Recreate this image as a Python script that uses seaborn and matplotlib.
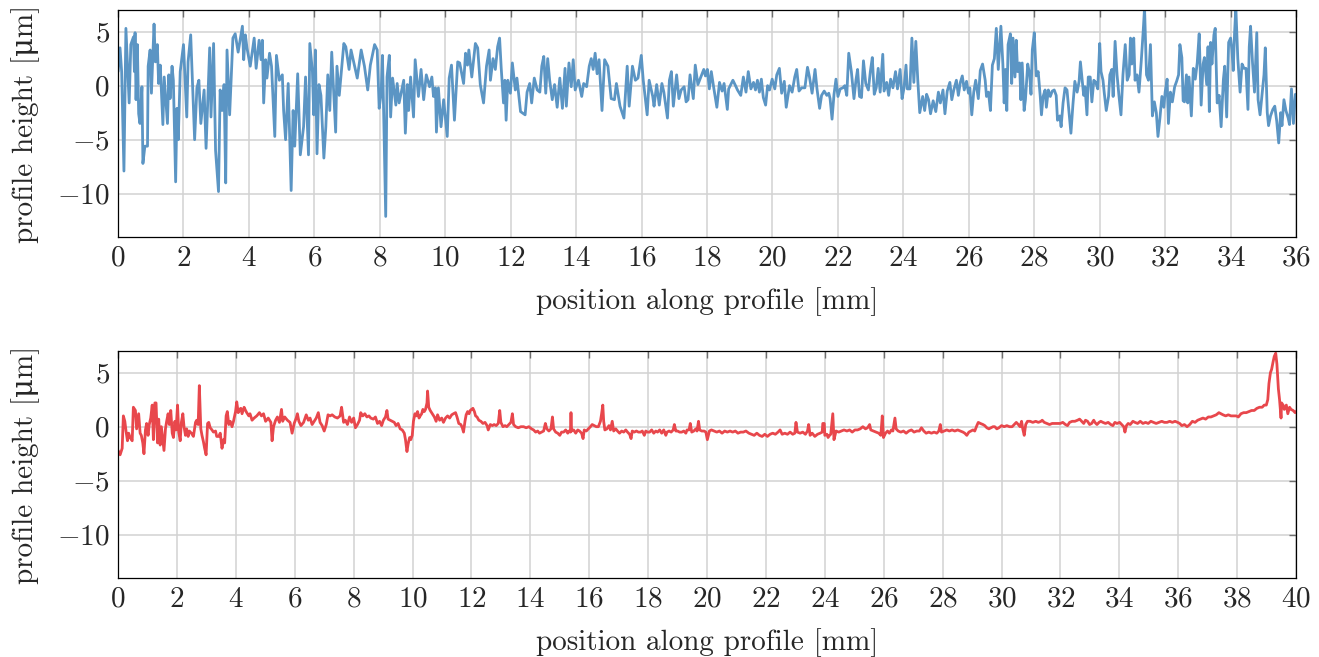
import matplotlib
matplotlib.use('Agg')
import matplotlib.pyplot as plt
import numpy as np
import pandas as pd
import seaborn as sns

# Profile 1 (0-36 mm)
top_x = [
    0.00, 0.06, 0.11, 0.18, 0.24, 0.34, 0.39, 0.47, 0.50, 0.52,
    0.55, 0.59, 0.63, 0.67, 0.73, 0.76, 0.82, 0.90, 0.92, 0.98,
    1.02, 1.10, 1.14, 1.20, 1.24, 1.29, 1.37, 1.41, 1.51, 1.55,
    1.59, 1.65, 1.69, 1.76, 1.80, 1.84, 1.90, 2.00, 2.10, 2.14,
    2.22, 2.29, 2.34, 2.41, 2.47, 2.53, 2.63, 2.69, 2.80, 2.84,
    2.92, 2.98, 3.07, 3.12, 3.18, 3.24, 3.29, 3.33, 3.41, 3.45,
    3.51, 3.58, 3.67, 3.80, 3.84, 3.89, 3.94, 4.04, 4.16, 4.22,
    4.31, 4.37, 4.41, 4.45, 4.51, 4.55, 4.63, 4.69, 4.79, 4.84,
    4.93, 5.02, 5.06, 5.12, 5.20, 5.29, 5.35, 5.40, 5.49, 5.57,
    5.67, 5.73, 5.82, 5.86, 5.94, 5.98, 6.03, 6.08, 6.14, 6.20,
    6.29, 6.35, 6.41, 6.47, 6.53, 6.65, 6.69, 6.76, 6.90, 6.96,
    7.06, 7.12, 7.31, 7.43, 7.53, 7.63, 7.71, 7.84, 7.92, 7.98,
    8.04, 8.08, 8.12, 8.18, 8.22, 8.29, 8.33, 8.39, 8.49, 8.53,
    8.59, 8.73, 8.78, 8.84, 8.88, 8.94,
    9.03, 9.08, 9.18, 9.26, 9.34, 9.42, 9.52, 9.59, 9.64, 9.70,
    9.73, 9.79, 9.87, 9.95, 10.06, 10.12, 10.19, 10.28, 10.38, 10.44,
    10.56, 10.62, 10.68, 10.72, 10.81, 10.92, 10.99, 11.07, 11.17, 11.26,
    11.34, 11.38, 11.46, 11.53, 11.60, 11.66, 11.71, 11.78, 11.82, 11.86,
    11.91, 11.99, 12.05, 12.14, 12.19, 12.30, 12.44, 12.50, 12.58, 12.64,
    12.72, 12.81, 12.89, 12.95, 13.01, 13.07, 13.13, 13.19, 13.27, 13.34,
    13.42, 13.50, 13.58, 13.66, 13.70, 13.78, 13.85, 13.91, 13.97, 14.07,
    14.17, 14.23, 14.32, 14.40, 14.46, 14.52, 14.58, 14.64, 14.70, 14.79,
    14.87, 14.97, 15.07, 15.17, 15.23, 15.34, 15.46, 15.56, 15.62, 15.72,
    15.81, 15.89, 15.99, 16.05, 16.17, 16.23, 16.34, 16.38, 16.46, 16.54,
    16.62, 16.68, 16.79, 16.85, 16.91, 16.97, 17.07, 17.14, 17.21, 17.30,
    17.36, 17.42, 17.48, 17.58, 17.64, 17.72, 17.81,
    17.90, 17.95, 18.01, 18.07, 18.13, 18.21, 18.30, 18.38, 18.46, 18.52,
    18.62, 18.66, 18.79, 18.87, 18.93, 19.03, 19.11, 19.19, 19.26, 19.34,
    19.42, 19.48, 19.54, 19.60, 19.66, 19.72, 19.79, 19.85, 19.91, 19.99,
    20.07, 20.13, 20.21, 20.28, 20.36, 20.42, 20.52, 20.60, 20.68, 20.74,
    20.81, 20.89, 20.99, 21.07, 21.13, 21.21, 21.30, 21.36, 21.44, 21.50,
    21.58, 21.66, 21.72, 21.76, 21.82, 21.88, 21.94, 22.00, 22.07, 22.15,
    22.21, 22.27, 22.33, 22.41, 22.49, 22.55, 22.60, 22.66, 22.72, 22.78,
    22.85, 22.93, 22.99, 23.05, 23.11, 23.17, 23.23, 23.29, 23.37, 23.41,
    23.49, 23.55, 23.61, 23.68, 23.76, 23.82, 23.90, 23.96, 24.02, 24.08,
    24.12, 24.20, 24.26, 24.32, 24.38, 24.44, 24.50, 24.59, 24.65, 24.71,
    24.77, 24.83, 24.91, 24.99, 25.07, 25.13, 25.21, 25.27, 25.34, 25.42,
    25.48, 25.54, 25.62, 25.68, 25.74, 25.80, 25.86, 25.93, 25.99, 26.03,
    26.09, 26.15, 26.21, 26.29, 26.35, 26.42, 26.50, 26.54, 26.60, 26.66,
    26.72, 26.78, 26.84, 26.90,
    26.94, 26.98, 27.04, 27.08, 27.12, 27.16, 27.20, 27.27, 27.31, 27.35,
    27.41, 27.45, 27.49, 27.55, 27.59, 27.63, 27.69, 27.73, 27.80, 27.86,
    27.90, 27.94, 28.00, 28.06, 28.12, 28.18, 28.22, 28.27, 28.33, 28.37,
    28.43, 28.49, 28.55, 28.61, 28.67, 28.71, 28.78, 28.82, 28.88, 28.94,
    29.00, 29.06, 29.12, 29.18, 29.24, 29.31, 29.37, 29.41, 29.47, 29.51,
    29.55, 29.61, 29.65, 29.71, 29.76, 29.82, 29.88, 29.94, 30.00, 30.04,
    30.10, 30.14, 30.20, 30.27, 30.31, 30.37, 30.41, 30.47, 30.53, 30.59,
    30.65, 30.71, 30.78, 30.84, 30.90, 30.94, 30.98, 31.04, 31.08, 31.14,
    31.20, 31.27, 31.33, 31.37, 31.43, 31.49, 31.55, 31.61, 31.67, 31.73,
    31.78, 31.84, 31.90, 31.96, 32.00, 32.06, 32.10, 32.16, 32.22, 32.29,
    32.35, 32.41, 32.45, 32.51, 32.55, 32.59, 32.65, 32.69, 32.73, 32.80,
    32.86, 32.92, 32.98, 33.04, 33.10, 33.16, 33.20, 33.27, 33.31, 33.35,
    33.39, 33.43, 33.49, 33.53, 33.59, 33.65, 33.71, 33.78, 33.82, 33.88,
    33.94, 34.00, 34.04, 34.08, 34.12, 34.16, 34.22, 34.29, 34.35, 34.41,
    34.47, 34.53, 34.57, 34.61, 34.67, 34.73, 34.80, 34.84, 34.90, 34.96,
    35.02, 35.06, 35.12, 35.16, 35.22, 35.29, 35.35, 35.41, 35.47, 35.53,
    35.57, 35.63, 35.69, 35.76, 35.80, 35.86, 35.92, 35.98, 36.00,
]
top_h = [
    1.3, 3.5, 1.3, -7.9, 5.3, -1.6, 3.8, 4.5, 1.3, 4.9,
    -1.3, 3.8, -2.6, -3.5, -0.1, -7.2, -5.6, -5.6, 1.8, 3.3,
    -0.7, 5.7, 2.2, 3.8, 0.2, 1.9, -3.6, 0.8, -3.5, 1.0,
    -1.2, 1.8, 0.5, -8.9, -2.1, -5.0, 1.3, 3.8, -2.9, 2.2,
    4.7, -1.0, -5.0, -0.2, 0.5, -3.5, -0.4, -5.8, 3.5, -2.9,
    3.9, -6.0, -9.8, -0.4, -2.3, 0.1, -9.0, 3.3, -2.7, 0.1,
    4.4, 4.8, 3.1, 5.5, 2.4, 4.7, 3.5, 1.8, 4.4, 1.6,
    4.2, 2.4, 4.2, -1.6, 2.4, 0.7, 3.0, 1.8, -4.7, 2.8,
    0.5, 1.0, -2.3, -5.0, 0.2, -9.7, -2.3, -5.6, 1.1, -6.4,
    -3.8, 0.8, -6.4, 3.9, 1.3, -2.7, 3.3, -6.3, 0.1, -0.9,
    -6.7, -3.8, 1.0, -2.3, 3.1, -4.3, 1.8, -0.9, 3.9, 3.6,
    1.5, 3.3, 0.7, 3.3, 1.8, -0.4, 1.9, 3.8, 3.3, -2.1,
    -0.7, 2.8, -2.9, -12.1, 0.8, 2.8, -2.9, 0.7, -1.8, 0.2,
    -1.6, 0.5, -4.4, 0.1, -2.3, 0.8,
    -2.9, 2.4, -1.0, 1.5, -1.3, 1.0, -0.1, 0.8, -1.0, -0.2,
    -4.3, -0.2, -3.8, -1.3, -4.7, 0.7, 1.9, -3.2, 2.2, 2.1,
    0.2, 3.0, 1.9, 3.3, 0.8, 3.9, 3.5, 0.1, -1.6, 1.8,
    3.3, 0.5, 2.5, 1.5, 3.6, 4.4, 1.6, -1.6, 0.5, -3.2,
    0.5, -0.7, 2.1, -0.4, 0.7, -2.4, -2.7, -0.6, 0.2, -1.6,
    0.7, -0.4, -0.6, 1.8, 2.7, -0.7, 2.5, 0.5, -1.3, 0.1,
    -2.0, 0.7, -2.1, 1.6, -1.9, 2.1, -0.1, 2.4, -0.4, 0.5,
    -1.0, 0.2, -0.1, 1.8, 2.5, 1.5, 3.0, 1.1, 2.4, -2.3,
    2.4, 1.8, -1.2, -1.3, 0.2, -1.9, -3.0, 1.8, -1.9, 1.8,
    0.5, 0.7, 2.8, 0.5, -2.7, 0.5, -1.0, -1.9, 0.1, -1.8,
    0.2, -0.6, -3.0, 0.5, 1.3, -1.9, 1.0, -1.2, -0.4, -0.1,
    -1.5, -1.3, 1.0, -1.2, 1.9, 0.1, 0.8,
    1.5, 0.9, 1.5, -0.3, 1.3, -0.3, -2.0, 0.3, -0.5, 0.2,
    -2.2, -0.3, 0.5, 0.0, -0.4, -0.9, 0.8, -0.6, 1.3, -0.3,
    0.3, -0.4, 0.5, -0.6, 0.6, -1.1, -1.8, 0.0, -0.4, 0.6,
    -0.3, 1.0, 1.6, -0.7, 0.4, -2.0, 0.0, -0.6, 0.8, 1.5,
    -0.5, -0.2, -0.2, 1.7, 0.8, -0.7, 1.5, -0.3, -2.1, -0.9,
    -0.5, -0.9, -0.7, -1.2, -3.1, -0.8, 0.6, -1.0, -0.3, -0.2,
    0.0, -0.9, 3.0, 1.3, -1.2, 0.5, 1.5, -1.0, -1.1, 2.3,
    0.2, -0.4, 1.3, 2.6, -0.8, -0.2, 1.6, -0.6, 2.9, -0.5,
    0.3, -0.9, 0.6, -0.2, 1.3, -0.3, 1.5, -1.2, -0.2, 1.9,
    -0.3, -0.3, 4.4, 0.3, 4.1, 0.5, -2.5, -1.0, -2.3, -0.8,
    -1.3, -2.6, -1.4, -2.4, -0.6, -1.6, -0.4, -2.6, -0.5, 0.3,
    -1.3, -0.4, 0.5, -0.9, 0.3, 0.9, -0.4, 0.4, -0.7, -0.2,
    -2.7, -0.6, 0.5, -1.2, 1.4, 2.0, 0.5, -1.0, -0.6, -2.3,
    1.9, 2.5, 5.3, 1.5,
    3.5, 5.5, 2.0, -1.6, 1.5, -2.3, 3.8, 4.8, 0.2, 4.4,
    0.8, 4.2, 1.3, 2.1, -1.3, 2.1, -2.3, -1.3, 2.0, 1.0,
    -0.8, 3.3, 4.9, 0.9, 1.3, -0.9, -2.7, -1.0, -0.4, -2.0,
    -0.4, -1.0, -0.5, -0.4, -0.9, -3.2, -2.8, -3.8, -1.6, -0.2,
    -0.4, -2.4, -4.4, -1.8, 0.4, -0.6, 0.4, 2.2, 0.3, -0.9,
    -0.1, -2.7, 0.8, 0.8, -1.5, 0.5, 0.3, -0.3, 3.9, 1.3,
    0.5, -0.7, -2.3, -1.0, 1.0, 1.5, -1.0, 4.1, 1.0, -1.0,
    -2.7, 1.0, 3.8, 0.5, 1.0, 4.4, 2.0, 4.4, 0.5, 1.0,
    -0.6, 2.3, 5.1, 7.2, 1.0, 0.5, 3.8, -2.8, -1.5, -2.5,
    -4.7, -3.0, -1.0, -2.0, -0.6, 0.6, -3.5, -0.6, -1.5, -0.1,
    0.4, 1.0, 3.8, 2.6, -1.4, -1.5, 1.0, -1.6, 0.8, -2.8,
    1.6, 0.6, 2.1, 4.8, -1.8, 2.0, 2.6, 0.1, 3.6, -2.4,
    4.0, 2.0, 4.7, 5.3, -1.6, -0.9, -3.8, 0.6, 1.8, -2.9,
    4.0, 4.4, 3.3, 1.4, 4.8, 7.2, 2.5, -0.6, 2.0, 1.6,
    1.6, -2.2, 3.6, 5.5, 2.1, -0.6, 4.9, -1.3, -2.7, -0.9,
    1.0, 3.5, -2.5, -3.7, -2.8, -2.2, -1.9, -3.3, -5.3, -2.5,
    -3.7, -1.3, -2.3, -3.0, -3.6, -0.3, -3.5, -0.8, -1.0,
]

# Profile 2 (0-40 mm)
bottom_x = [
    0.00, 0.07, 0.14, 0.18, 0.23, 0.27, 0.32, 0.36, 0.41, 0.48,
    0.52, 0.59, 0.63, 0.70, 0.75, 0.79, 0.84, 0.88, 0.93, 0.97,
    1.02, 1.06, 1.11, 1.16, 1.20, 1.25, 1.29, 1.34, 1.38, 1.43,
    1.47, 1.52, 1.56, 1.61, 1.65, 1.70, 1.74, 1.79, 1.84, 1.88,
    1.93, 1.97, 2.02, 2.06, 2.11, 2.15, 2.20, 2.24, 2.29, 2.33,
    2.38, 2.42, 2.49, 2.56, 2.63, 2.67, 2.72, 2.76, 2.81, 2.85,
    2.90, 2.94, 2.99, 3.04, 3.08, 3.13, 3.19, 3.24, 3.31, 3.35,
    3.42, 3.47, 3.53, 3.58, 3.62, 3.67, 3.71, 3.76, 3.81, 3.87,
    3.92, 3.99, 4.03, 4.08, 4.12, 4.17, 4.21, 4.28, 4.33, 4.37,
    4.44, 4.48, 4.55, 4.62, 4.71, 4.80, 4.87, 4.94, 5.01, 5.10,
    5.19, 5.23, 5.28, 5.35, 5.41, 5.48, 5.55, 5.59, 5.66, 5.75,
    5.84, 5.91, 5.98, 6.05, 6.09, 6.14, 6.21, 6.30, 6.39, 6.46,
    6.52, 6.59, 6.66, 6.73, 6.80, 6.86, 6.93, 7.00, 7.07, 7.13,
    7.20, 7.27, 7.36, 7.45, 7.54, 7.59, 7.66, 7.72, 7.79, 7.86,
    7.93, 8.00, 8.06, 8.13, 8.20, 8.24, 8.31, 8.38, 8.45, 8.52,
    8.58, 8.67, 8.74, 8.81, 8.88, 8.95, 9.01, 9.08, 9.13, 9.17,
    9.24, 9.31, 9.38, 9.44, 9.51,
    9.58, 9.65, 9.72, 9.76, 9.81, 9.85, 9.90, 9.94, 9.99, 10.03,
    10.08, 10.12, 10.17, 10.22, 10.26, 10.31, 10.35, 10.40, 10.44, 10.49,
    10.51, 10.55, 10.60, 10.67, 10.74, 10.80, 10.85, 10.92, 10.99, 11.05,
    11.12, 11.19, 11.26, 11.33, 11.39, 11.46, 11.51, 11.57, 11.64, 11.69,
    11.73, 11.78, 11.82, 11.87, 11.92, 11.96, 12.00, 12.05, 12.10, 12.14,
    12.19, 12.25, 12.32, 12.39, 12.46, 12.53, 12.57, 12.64, 12.71, 12.77,
    12.84, 12.91, 12.96, 13.00, 13.07, 13.14, 13.20, 13.27, 13.34, 13.39,
    13.43, 13.50, 13.59, 13.68, 13.77, 13.86, 13.95, 14.04, 14.11, 14.18,
    14.25, 14.31, 14.38, 14.45, 14.51, 14.56, 14.63, 14.70, 14.75, 14.79,
    14.86, 14.93, 15.00, 15.06, 15.13, 15.20, 15.27, 15.31, 15.36, 15.38,
    15.40, 15.47, 15.54, 15.61, 15.67, 15.74, 15.79, 15.83, 15.90, 15.97,
    16.04, 16.10, 16.17, 16.24, 16.31, 16.38, 16.42, 16.46, 16.49, 16.53,
    16.60, 16.67, 16.72, 16.78, 16.83, 16.90, 16.96, 17.03, 17.10, 17.17,
    17.24, 17.30, 17.37, 17.42, 17.46, 17.53, 17.60, 17.67, 17.74, 17.80,
    17.87, 17.92, 17.98, 18.05, 18.12, 18.19, 18.26, 18.32, 18.39, 18.46,
    18.53, 18.60, 18.64, 18.71, 18.78, 18.85, 18.89, 18.94, 19.00, 19.07,
    19.14, 19.21, 19.28, 19.32, 19.39, 19.43, 19.48, 19.55, 19.62, 19.66,
    19.71, 19.75, 19.82, 19.90, 19.96,
    20.01, 20.08, 20.15, 20.24, 20.33, 20.42, 20.51, 20.60, 20.69, 20.78,
    20.87, 20.96, 21.05, 21.14, 21.23, 21.32, 21.42, 21.51, 21.60, 21.69,
    21.78, 21.87, 21.96, 22.05, 22.14, 22.23, 22.32, 22.41, 22.48, 22.55,
    22.64, 22.73, 22.82, 22.91, 22.98, 23.02, 23.07, 23.16, 23.25, 23.34,
    23.41, 23.45, 23.50, 23.57, 23.66, 23.75, 23.84, 23.91, 23.93, 23.98,
    24.00, 24.07, 24.11, 24.16, 24.20, 24.27, 24.31, 24.38, 24.47, 24.56,
    24.65, 24.75, 24.84, 24.93, 25.02, 25.11, 25.20, 25.29, 25.38, 25.45,
    25.52, 25.56, 25.65, 25.74, 25.83, 25.90, 25.95, 25.99, 26.06, 26.13,
    26.19, 26.26, 26.31, 26.38, 26.42, 26.49, 26.58, 26.67, 26.76, 26.85,
    26.94, 27.03, 27.12, 27.21, 27.28, 27.36, 27.44, 27.53, 27.62, 27.71,
    27.80, 27.87, 27.92, 27.96, 28.05, 28.14, 28.23, 28.32, 28.41, 28.51,
    28.60, 28.69, 28.75, 28.82, 28.89, 28.96, 29.03, 29.09, 29.16, 29.21,
    29.28, 29.37, 29.43, 29.50, 29.57, 29.64, 29.71, 29.77, 29.84, 29.91,
    30.00, 30.09, 30.18, 30.27, 30.36, 30.43, 30.50, 30.57, 30.63, 30.68,
    30.72, 30.77, 30.82, 30.88, 30.97, 31.06, 31.16, 31.25, 31.34, 31.38,
    31.45, 31.54, 31.63, 31.72, 31.81, 31.90, 31.99, 32.08, 32.17, 32.24,
    32.31, 32.40, 32.49, 32.58, 32.65, 32.72, 32.79, 32.85, 32.92, 32.99,
    33.06, 33.13, 33.17, 33.24, 33.31, 33.37, 33.44, 33.53, 33.62, 33.71,
    33.78, 33.85, 33.92, 34.01, 34.08, 34.15, 34.19, 34.24, 34.30, 34.37,
    34.46, 34.53, 34.62, 34.71, 34.80, 34.89, 34.98, 35.07, 35.16, 35.25,
    35.35, 35.44, 35.53, 35.62, 35.71, 35.80, 35.89, 35.98, 36.05, 36.12,
    36.21, 36.30, 36.39, 36.48, 36.57, 36.66, 36.75, 36.84, 36.93, 37.02,
    37.11, 37.20, 37.29, 37.38, 37.45, 37.52, 37.61, 37.70, 37.79, 37.88,
    37.97, 38.04, 38.13, 38.22, 38.31, 38.40, 38.49, 38.58, 38.67, 38.76,
    38.85, 38.92, 38.99, 39.04, 39.08, 39.13, 39.17, 39.22, 39.26, 39.31,
    39.35, 39.40, 39.44, 39.49, 39.51, 39.56, 39.60, 39.67, 39.72, 39.78,
    39.83, 39.90, 39.97, 40.00,
]
bottom_h = [
    -2.2, -2.6, -2.0, 1.0, 0.5, -0.4, -1.3, -0.6, -1.0, -1.3,
    1.8, 1.5, -0.2, 1.2, -0.6, -0.8, -1.5, -2.5, -0.3, 0.3,
    -0.8, 0.2, 0.8, 2.0, -1.2, 2.2, 2.2, -1.5, 0.7, -1.7,
    0.0, -1.2, -2.2, -0.2, 0.5, 1.2, 0.2, 1.5, -0.6, -1.0,
    0.5, -0.3, 2.0, -0.5, -1.3, 0.4, 1.2, 0.0, -0.8, -0.2,
    -0.9, -0.4, -0.6, -0.9, 0.4, 0.6, 0.2, 3.8, -0.2, -0.8,
    -1.4, -2.0, -2.6, 0.3, 0.4, -0.1, -0.3, -0.5, -0.4, -0.9,
    -0.9, -0.6, -2.0, -1.2, -1.5, 1.0, 1.4, 0.2, 0.5, 0.0,
    0.5, 1.4, 2.3, 1.3, 1.6, 1.7, 1.2, 1.8, 1.5, 1.3,
    1.0, 1.2, 0.6, 0.8, 1.0, 1.3, 1.0, 1.2, 0.5, 0.8,
    0.4, -1.3, 0.0, 0.6, 0.9, 0.4, 1.6, 0.5, 0.9, 0.6,
    0.4, -0.6, 0.3, 0.8, 1.2, 0.5, 0.1, 0.4, 1.1, 0.6,
    0.8, 0.2, 0.5, 0.8, 1.3, 0.4, 0.1, -0.4, 0.2, 1.1,
    1.0, 1.1, 0.9, 0.8, 1.0, 1.8, 0.4, 0.6, 0.2, 0.9,
    0.4, 0.8, -0.1, 0.2, 0.6, 1.3, 1.0, 1.2, 0.9, 1.0,
    0.8, 0.7, 0.9, 0.3, 0.5, 0.1, 0.6, 0.9, 1.5, 0.7,
    0.6, 0.5, 0.4, 0.1, 0.3,
    -0.2, -0.3, -0.6, -1.2, -2.3, -1.6, -1.0, -1.2, -0.8, 0.5,
    1.2, 1.0, 1.4, 0.8, 1.0, 1.2, 1.6, 1.4, 1.6, 2.2,
    3.3, 1.8, 1.5, 1.2, 0.9, 0.5, 1.1, 0.6, 0.8, 0.4,
    0.8, 1.0, 0.8, 1.1, 1.2, 1.3, 0.9, 0.3, 0.2, -0.1,
    -0.5, 0.5, 1.1, 1.4, 1.2, 1.5, 1.6, 1.7, 1.4, 1.0,
    0.9, 0.6, 0.5, 0.3, 0.4, 0.1, -0.3, 0.2, 0.1, 0.2,
    0.1, 0.3, 1.5, 0.4, 0.0, 0.1, 0.0, 0.2, 0.4, 1.2,
    0.2, 0.0, -0.1, 0.0, 0.0, -0.1, 0.0, -0.2, -0.3, -0.5,
    -0.4, -0.6, -0.5, -0.4, 0.3, -0.2, -0.4, -0.2, 0.9, -0.2,
    -0.5, -0.6, -0.8, -0.5, -0.5, -0.3, -0.6, -0.4, -0.5, 1.3,
    -0.4, -0.3, -0.6, -0.3, -0.4, -0.6, -1.1, -0.3, -0.4, -0.2,
    0.0, 0.2, 0.1, 0.0, 0.0, 0.5, 1.2, 2.0, 0.5, -0.3,
    -0.2, 0.1, -0.3, 0.5, -0.4, -0.2, -0.4, -0.6, -0.4, -0.5,
    -0.3, -0.5, -0.7, -1.1, -0.4, -0.5, -0.4, -0.5, -0.5, -0.4,
    -0.8, -0.4, -0.5, -0.5, -0.3, -0.6, -0.4, -0.5, -0.3, -0.6,
    -0.3, -0.8, -0.5, -0.4, -0.5, -0.3, 0.2, -0.4, -0.4, -0.5,
    -0.5, -0.4, -0.6, -0.3, -0.3, 0.3, -0.5, -0.4, -0.2, -0.4,
    0.5, -0.3, -0.4, -0.4, -0.5,
    -1.2, -0.4, -0.3, -0.4, -0.5, -0.4, -0.6, -0.4, -0.5, -0.4,
    -0.5, -0.4, -0.6, -0.5, -0.5, -0.4, -0.6, -0.7, -0.8, -0.6,
    -0.8, -0.9, -0.7, -0.9, -0.7, -0.6, -0.7, -0.5, -0.3, -0.7,
    -0.6, -0.7, -0.5, -0.7, -0.6, 0.4, -0.5, -0.6, -0.5, -0.7,
    -0.4, 0.2, -0.8, -0.6, -0.9, -0.7, -0.6, -0.5, 0.3, 0.3,
    -0.8, -0.7, -1.0, -0.8, -0.7, 1.2, -1.2, -0.4, -0.5, -0.4,
    -0.3, -0.4, -0.3, -0.5, -0.3, -0.3, -0.2, 0.0, -0.2, -0.1,
    0.2, -0.3, -0.4, -0.5, -0.6, -0.8, 1.0, -1.0, -0.6, -0.4,
    -0.6, -0.3, -0.4, 0.8, -0.2, -0.4, -0.5, -0.4, -0.6, -0.4,
    -0.3, -0.5, -0.4, -0.4, -0.1, -0.4, -0.6, -0.5, -0.6, -0.5,
    -0.6, -0.4, 0.2, -0.5, -0.4, -0.3, -0.4, -0.3, -0.4, -0.3,
    -0.4, -0.5, -0.6, -0.8, -0.5, -0.4, -0.3, -0.4, 0.1, 0.4,
    0.3, 0.2, 0.1, -0.1, -0.2, -0.1, 0.0, 0.0, -0.2, -0.1,
    0.1, 0.0, 0.1, 0.0, 0.0, 0.2, 0.4, 0.2, 0.0, 0.5,
    -0.2, -0.8, 0.2, 0.5, 0.5, 0.4, 0.5, 0.4, 0.5, 0.6,
    0.4, 0.3, 0.2, 0.3, 0.3, 0.3, 0.3, 0.4, 0.2, 0.1,
    0.4, 0.5, 0.5, 0.6, 0.7, 0.5, 0.3, 0.6, 0.5, 0.2,
    0.3, 0.6, 0.4, 0.2, 0.4, 0.5, 0.4, 0.3, 0.4, 0.2,
    0.1, 0.4, 0.3, 0.4, 0.2, 0.0, -0.5, 0.1, 0.3, 0.2,
    0.5, 0.4, 0.3, 0.5, 0.3, 0.4, 0.3, 0.5, 0.4, 0.3,
    0.4, 0.5, 0.4, 0.4, 0.5, 0.4, 0.5, 0.4, 0.3, 0.1,
    0.2, 0.0, 0.2, 0.5, 0.4, 0.6, 0.7, 0.8, 0.7, 0.9,
    0.9, 1.0, 1.1, 1.3, 1.2, 1.1, 1.0, 1.1, 1.0, 1.0,
    1.0, 0.9, 1.2, 1.3, 1.3, 1.4, 1.5, 1.5, 1.7, 1.8,
    1.8, 2.0, 2.0, 2.5, 4.0, 5.0, 5.3, 6.0, 6.5, 6.8,
    5.8, 3.5, 2.5, 0.8, 2.2, 2.0, 1.6, 2.0, 1.2, 1.8,
    1.6, 1.5, 1.3, 1.4,
]

top_df = pd.DataFrame({'position': top_x, 'height': top_h})
bottom_df = pd.DataFrame({'position': bottom_x, 'height': bottom_h})

sns.set_theme(style='white')
plt.rcParams['font.family'] = ['cmr10', 'DejaVu Serif']
plt.rcParams['mathtext.fontset'] = 'cm'
plt.rcParams['axes.formatter.use_mathtext'] = True


def style_axis(ax, xmax):
    ax.set_xlim(0, xmax)
    ax.set_ylim(-14, 7)
    ax.set_xticks(np.arange(0, xmax + 1, 2))
    ax.set_yticks([-10, -5, 0, 5])
    ax.set_axisbelow(True)
    ax.grid(True, color='#d2d2d2', lw=1.1)
    ax.tick_params(direction='in', length=5, width=1, top=True, right=True,
                   labelsize=21, color='#6e6e6e', pad=6)
    for s in ax.spines.values():
        s.set_color('black')
        s.set_linewidth(0.9)
    ax.set_xlabel('position along profile [mm]', fontsize=21, labelpad=11)
    ax.set_ylabel('profile height [μm]', fontsize=21, labelpad=12)


fig = plt.figure(figsize=(13.19, 6.57), dpi=100)
ax_top = fig.add_axes([0.0895, 0.6393, 0.8931, 0.3455])
ax_bot = fig.add_axes([0.0895, 0.1202, 0.8931, 0.3455])

sns.lineplot(data=top_df, x='position', y='height', ax=ax_top,
             color='#5b95c4', lw=2.0, sort=False, estimator=None)
sns.lineplot(data=bottom_df, x='position', y='height', ax=ax_bot,
             color='#e8474c', lw=2.0, sort=False, estimator=None)

style_axis(ax_top, 36)
style_axis(ax_bot, 40)

fig.savefig('out.png', dpi=100)
